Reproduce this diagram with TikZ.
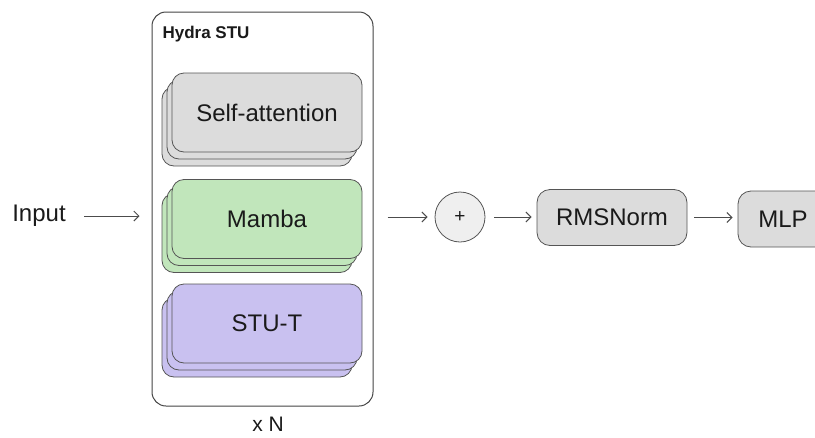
\documentclass[tikz,border=0pt]{standalone}
\usepackage{fontspec}
\setmainfont{Liberation Sans}
\usetikzlibrary{arrows.meta}
\definecolor{gfill}{HTML}{DCDCDC}
\definecolor{mfill}{HTML}{C1E6BB}
\definecolor{pfill}{HTML}{C9C1F0}
\definecolor{cfill}{HTML}{EFEFEF}
\definecolor{edge}{HTML}{555555}
\definecolor{txt}{HTML}{1A1A1A}
\begin{document}
\begin{tikzpicture}[x=1pt,y=-1pt,
  lbl/.style={font=\fontsize{24}{28}\selectfont, text=txt},
  layer/.style={draw=edge, line width=0.8pt, rounded corners=12pt, minimum width=190pt, minimum height=79pt, inner sep=0pt},
  boxn/.style={draw=edge, line width=0.8pt, rounded corners=13pt, fill=gfill, minimum height=56pt, inner sep=0pt},
  conn/.style={draw=edge!90!black, line width=1pt, -{Straight Barb[length=5pt,width=10pt]}}
]
\useasboundingbox (0,0) rectangle (815,437);
% outer box
\node[draw=edge!80!black, line width=1pt, rounded corners=14pt, minimum width=221pt, minimum height=394pt, inner sep=0pt] (hydra) at (262.5,209) {};
\node[anchor=west, font=\bfseries\fontsize{17}{20}\selectfont, text=txt] (title) at (159,34) {Hydra STU};
% self-attention stack
\node[layer, fill=gfill] (sa3) at (257,126.5) {};
\node[layer, fill=gfill] (sa2) at (262,119.5) {};
\node[layer, fill=gfill, lbl] (sa) at (267,112.5) {Self-attention};
% mamba stack
\node[layer, fill=mfill] (mb3) at (257,233) {};
\node[layer, fill=mfill] (mb2) at (262,226) {};
\node[layer, fill=mfill, lbl] (mb) at (267,219) {Mamba};
% stu-t stack
\node[layer, fill=pfill] (st3) at (257,337.5) {};
\node[layer, fill=pfill] (st2) at (262,330.5) {};
\node[layer, fill=pfill, lbl] (st) at (267,323.5) {STU-T};
% x N
\node[lbl, font=\fontsize{21}{24}\selectfont] (xn) at (268,424) {x N};
% input
\node[lbl, font=\fontsize{24}{28}\selectfont] (in) at (39,216) {Input};
% plus
\node[circle, draw=edge, line width=0.8pt, fill=cfill, minimum size=50pt, inner sep=0pt, font=\fontsize{19}{22}\selectfont, text=txt] (plus) at (460,217) {+};
% rmsnorm
\node[boxn, minimum width=150pt, lbl] (rms) at (612,217.5) {RMSNorm};
% mlp
\node[boxn, minimum width=90pt, lbl] (mlp) at (783,219) {MLP};
% connectors
\draw[conn, shorten <=15pt, shorten >=12pt] (in.east) -- (hydra.west |- in.east);
\draw[conn, shorten <=14pt, shorten >=7pt] (hydra.east |- plus.west) -- (plus.west);
\draw[conn, shorten <=9pt, shorten >=5pt] (plus.east) -- (rms.west |- plus.east);
\draw[conn, shorten <=7pt, shorten >=5pt] (rms.east) -- (mlp.west |- rms.east);
\end{tikzpicture}
\end{document}
